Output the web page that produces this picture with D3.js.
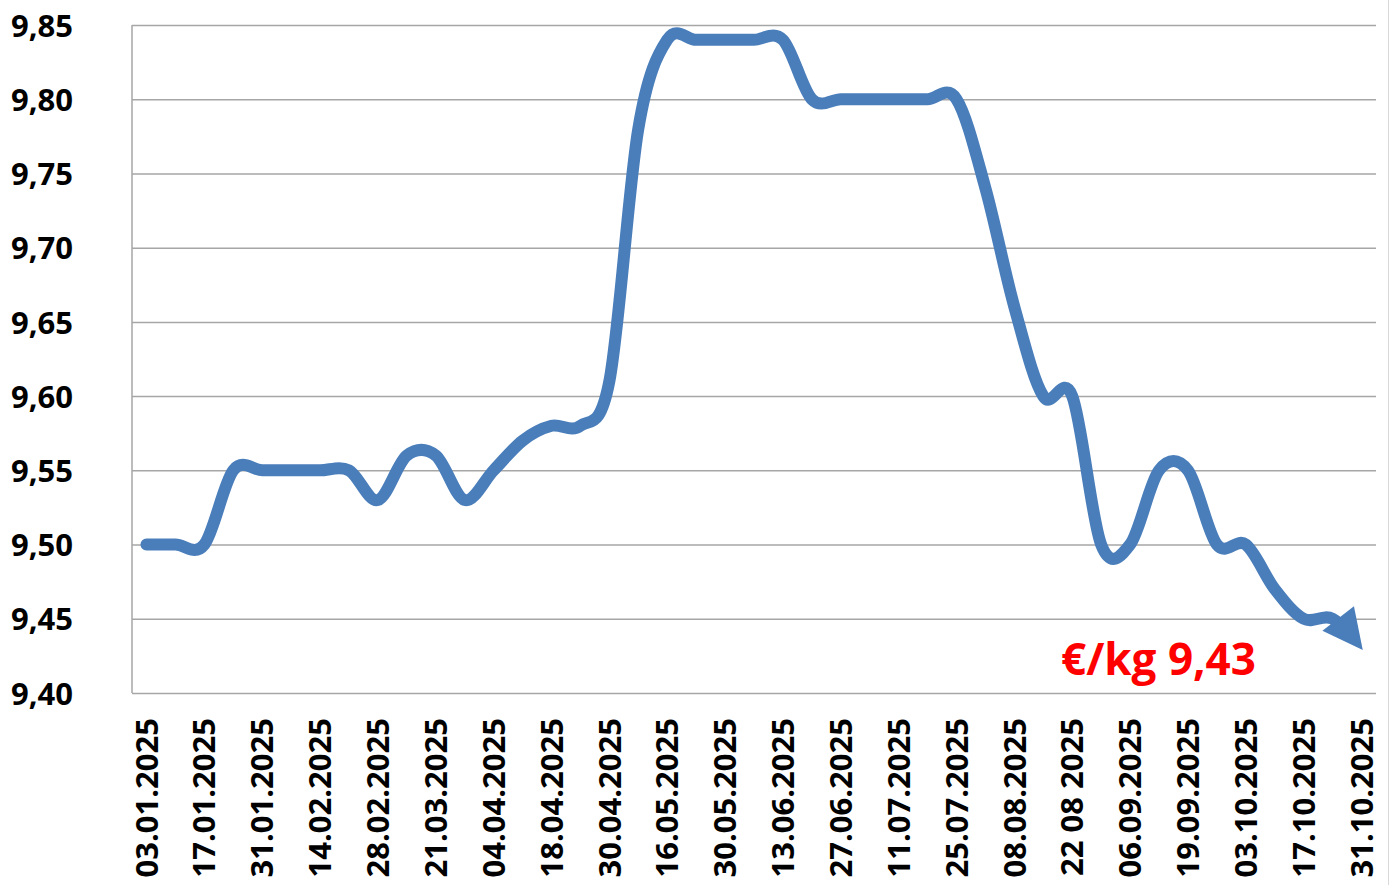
<!DOCTYPE html>
<html>
<head>
<meta charset="utf-8">
<script src="https://cdn.jsdelivr.net/npm/d3@7"></script>
<style>
  html, body { margin: 0; padding: 0; background: #ffffff; }
  svg { display: block; }
  text { font-family: "Open Sans", "Noto Sans", sans-serif; font-weight: bold; }
</style>
</head>
<body>
<svg id="chart" width="1390" height="885"></svg>
<script>
// ---- data ----
const categories = [
  "03.01.2025","10.01.2025","17.01.2025","24.01.2025","31.01.2025","07.02.2025",
  "14.02.2025","21.02.2025","28.02.2025","14.03.2025","21.03.2025","28.03.2025",
  "04.04.2025","11.04.2025","18.04.2025","24.04.2025","30.04.2025","09.05.2025",
  "16.05.2025","23.05.2025","30.05.2025","06.06.2025","13.06.2025","20.06.2025",
  "27.06.2025","04.07.2025","11.07.2025","18.07.2025","25.07.2025","01.08.2025",
  "08.08.2025","15.08.2025","22 08 2025","29.08.2025","06.09.2025","12.09.2025",
  "19.09.2025","26.09.2025","03.10.2025","10.10.2025","17.10.2025","24.10.2025",
  "31.10.2025"
];
const prices = [
  9.50, 9.50, 9.50, 9.55, 9.55, 9.55,
  9.55, 9.55, 9.53, 9.56, 9.56, 9.53,
  9.55, 9.57, 9.58, 9.58, 9.61, 9.78,
  9.84, 9.84, 9.84, 9.84, 9.84, 9.80,
  9.80, 9.80, 9.80, 9.80, 9.80, 9.74,
  9.66, 9.60, 9.60, 9.50, 9.50, 9.55,
  9.55, 9.50, 9.50, 9.47, 9.45, 9.45,
  9.43
];
const xTickLabels = categories.filter((d, i) => i % 2 === 0);
const yTicks = [9.40, 9.45, 9.50, 9.55, 9.60, 9.65, 9.70, 9.75, 9.80, 9.85];
const annotation = "€/kg 9,43";

// ---- layout ----
const plotL = 132, plotR = 1376, plotT = 25, plotB = 693;
const svg = d3.select("#chart");

const x = d3.scaleBand().domain(categories).range([plotL, plotR]).paddingInner(0).paddingOuter(0);
const y = d3.scaleLinear().domain([9.40, 9.85]).range([plotB, plotT]);

const locale = d3.formatLocale({ decimal: ",", thousands: ".", grouping: [3], currency: ["", "€"] });
const fmt = locale.format(".2f");

// outer right border
svg.append("line")
  .attr("x1", 1388.5).attr("x2", 1388.5).attr("y1", 0).attr("y2", 885)
  .attr("stroke", "#d9d9d9").attr("stroke-width", 1);

// y axis with gridlines
const yAxis = d3.axisLeft(y).tickValues(yTicks).tickFormat(fmt)
  .tickSizeInner(-(plotR - plotL)).tickSizeOuter(0).tickPadding(59);
const gy = svg.append("g").attr("transform", `translate(${plotL},0)`).call(yAxis);
gy.select(".domain").remove();
gy.selectAll(".tick line").attr("stroke", "#a6a6a6").attr("stroke-width", 1.5);
gy.selectAll(".tick text")
  .attr("fill", "#000").attr("font-size", 31).attr("dy", "0.36em")
  .style("font-family", "'Open Sans', sans-serif").style("font-weight", "bold");

// left axis line
svg.append("line")
  .attr("x1", plotL).attr("x2", plotL).attr("y1", plotT).attr("y2", plotB)
  .attr("stroke", "#a6a6a6").attr("stroke-width", 1.5);

// x axis
const xAxis = d3.axisBottom(x).tickValues(xTickLabels).tickSize(0).tickPadding(0);
const gx = svg.append("g").attr("transform", `translate(0,${plotB})`).call(xAxis);
gx.select(".domain").remove();
gx.selectAll(".tick text")
  .attr("fill", "#000").attr("font-size", 31)
  .attr("transform", "rotate(-90)")
  .attr("text-anchor", "end")
  .attr("x", -25).attr("y", 0).attr("dy", "0.36em")
  .style("font-family", "'Open Sans', sans-serif").style("font-weight", "bold");

// arrow marker
const defs = svg.append("defs");
defs.append("marker")
  .attr("id", "arrow")
  .attr("markerUnits", "userSpaceOnUse")
  .attr("viewBox", "-42 -22 46 44")
  .attr("refX", 0).attr("refY", 0)
  .attr("markerWidth", 46).attr("markerHeight", 44)
  .attr("orient", "auto")
  .append("path")
  .attr("d", "M2,0 L-38,-20 L-38,20 Z")
  .attr("fill", "#4a7ebb");

// line
const line = d3.line()
  .x((d, i) => x(categories[i]) + x.bandwidth() / 2)
  .y(d => y(d))
  .curve(d3.curveCardinal.tension(0));

const path = svg.append("path")
  .datum(prices)
  .attr("d", line)
  .attr("fill", "none")
  .attr("stroke", "#4a7ebb")
  .attr("stroke-width", 12)
  .attr("stroke-linecap", "round")
  .attr("stroke-linejoin", "round");
const total = path.node().getTotalLength();
path.attr("stroke-dasharray", `${total - 22} ${total}`)
  .attr("marker-end", "url(#arrow)");

// annotation
svg.append("text")
  .attr("x", 1061).attr("y", 675)
  .attr("fill", "#ff0000")
  .attr("font-size", 44)
  .style("font-family", "'Open Sans', sans-serif").style("font-weight", "bold")
  .text(annotation);
</script>
</body>
</html>
